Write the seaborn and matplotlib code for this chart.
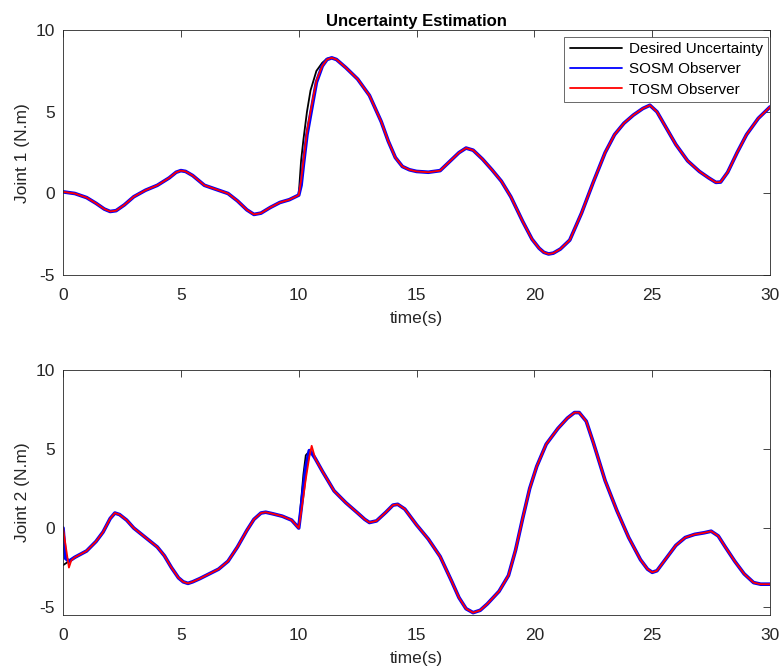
import matplotlib
matplotlib.use("Agg")
import matplotlib.pyplot as plt
import seaborn as sns
import pandas as pd

# ---------------- data ----------------
t1 = [0, 0.5, 1.0, 1.4, 1.75, 2.0, 2.25, 2.6, 3.0, 3.5,
      4.0, 4.5, 4.8, 5.0, 5.2, 5.5, 6.0, 6.5, 7.0, 7.4,
      7.8, 8.1, 8.4, 8.8, 9.2, 9.6, 10.0, 10.1, 10.2, 10.35,
      10.5, 10.75, 11.0, 11.2, 11.4, 11.6, 12.0, 12.5, 13.0, 13.5,
      13.8, 14.1, 14.4, 14.7, 15.0, 15.5, 16.0, 16.4, 16.8, 17.1,
      17.4, 17.8, 18.2, 18.6, 19.0, 19.5, 19.9, 20.2, 20.4, 20.6,
      20.8, 21.1, 21.5, 22.0, 22.5, 23.0, 23.4, 23.8, 24.2, 24.6,
      24.9, 25.2, 25.6, 26.0, 26.5, 27.0, 27.4, 27.7, 27.9, 28.2,
      28.6, 29.0, 29.5, 30.0]
joint1_desired = [0.1, 0.0, -0.25, -0.6, -0.95, -1.1, -1.05, -0.7, -0.2, 0.2,
                  0.5, 0.95, 1.3, 1.4, 1.35, 1.1, 0.5, 0.25, 0.0, -0.45,
                  -1.0, -1.28, -1.2, -0.85, -0.55, -0.38, -0.1, 2.0, 3.3, 5.0,
                  6.3, 7.5, 8.0, 8.25, 8.3, 8.2, 7.7, 7.0, 6.0, 4.4,
                  3.2, 2.2, 1.65, 1.45, 1.35, 1.3, 1.4, 1.95, 2.5, 2.78,
                  2.65, 2.1, 1.45, 0.75, -0.2, -1.7, -2.8, -3.35, -3.6, -3.7,
                  -3.65, -3.4, -2.85, -1.2, 0.7, 2.5, 3.6, 4.3, 4.8, 5.2,
                  5.4, 5.0, 4.0, 3.0, 2.0, 1.35, 0.95, 0.68, 0.7, 1.3,
                  2.5, 3.6, 4.6, 5.3]
joint1_sosm = [0.1, 0.0, -0.25, -0.6, -0.95, -1.1, -1.05, -0.7, -0.2, 0.2,
               0.5, 0.95, 1.3, 1.4, 1.35, 1.1, 0.5, 0.25, 0.0, -0.45,
               -1.0, -1.28, -1.2, -0.85, -0.55, -0.38, -0.1, 0.5, 1.8, 3.6,
               4.8, 6.8, 7.8, 8.2, 8.3, 8.2, 7.7, 7.0, 6.0, 4.4,
               3.2, 2.2, 1.65, 1.45, 1.35, 1.3, 1.4, 1.95, 2.5, 2.78,
               2.65, 2.1, 1.45, 0.75, -0.2, -1.7, -2.8, -3.35, -3.6, -3.7,
               -3.65, -3.4, -2.85, -1.2, 0.7, 2.5, 3.6, 4.3, 4.8, 5.2,
               5.4, 5.0, 4.0, 3.0, 2.0, 1.35, 0.95, 0.68, 0.7, 1.3,
               2.5, 3.6, 4.6, 5.3]
joint1_tosm = [0.1, 0.0, -0.25, -0.6, -0.95, -1.1, -1.05, -0.7, -0.2, 0.2,
               0.5, 0.95, 1.3, 1.4, 1.35, 1.1, 0.5, 0.25, 0.0, -0.45,
               -1.0, -1.28, -1.2, -0.85, -0.55, -0.38, -0.1, 0.8, 2.0, 3.8,
               5.0, 6.9, 7.8, 8.2, 8.3, 8.2, 7.7, 7.0, 6.0, 4.4,
               3.2, 2.2, 1.65, 1.45, 1.35, 1.3, 1.4, 1.95, 2.5, 2.78,
               2.65, 2.1, 1.45, 0.75, -0.2, -1.7, -2.8, -3.35, -3.6, -3.7,
               -3.65, -3.4, -2.85, -1.2, 0.7, 2.5, 3.6, 4.3, 4.8, 5.2,
               5.4, 5.0, 4.0, 3.0, 2.0, 1.35, 0.95, 0.68, 0.7, 1.3,
               2.5, 3.6, 4.6, 5.3]

t2 = [0, 0.1, 0.25, 0.35, 0.5, 1.0, 1.4, 1.7, 2.0, 2.2,
      2.4, 2.7, 3.0, 3.5, 4.0, 4.3, 4.6, 4.9, 5.1, 5.3,
      5.5, 5.8, 6.2, 6.6, 7.0, 7.4, 7.8, 8.1, 8.4, 8.6,
      8.9, 9.3, 9.7, 10.0, 10.1, 10.2, 10.3, 10.45, 10.55, 10.7,
      11.0, 11.5, 12.0, 12.5, 12.8, 13.0, 13.3, 13.7, 14.0, 14.2,
      14.5, 15.0, 15.5, 16.0, 16.5, 16.8, 17.1, 17.4, 17.7, 18.0,
      18.5, 18.9, 19.2, 19.5, 19.8, 20.1, 20.5, 21.0, 21.4, 21.7,
      21.9, 22.2, 22.5, 23.0, 23.5, 24.0, 24.5, 24.8, 25.0, 25.2,
      25.6, 26.0, 26.4, 26.8, 27.2, 27.5, 27.8, 28.1, 28.5, 28.9,
      29.3, 29.6, 30.0]
joint2_desired = [-2.35, -2.25, -2.1, -2.0, -1.85, -1.45, -0.85, -0.25, 0.6, 0.95,
                  0.85, 0.5, 0.0, -0.6, -1.2, -1.75, -2.5, -3.15, -3.4, -3.5,
                  -3.4, -3.2, -2.9, -2.6, -2.1, -1.2, -0.15, 0.55, 0.95, 1.0,
                  0.9, 0.75, 0.5, 0.0, 1.7, 3.4, 4.6, 4.85, 4.75, 4.4,
                  3.6, 2.35, 1.6, 0.95, 0.55, 0.35, 0.45, 1.0, 1.45, 1.5,
                  1.2, 0.2, -0.7, -1.8, -3.4, -4.4, -5.1, -5.35, -5.2, -4.8,
                  -4.0, -3.0, -1.4, 0.6, 2.5, 3.9, 5.3, 6.3, 6.95, 7.3,
                  7.3, 6.75, 5.4, 3.0, 1.1, -0.6, -2.0, -2.6, -2.8, -2.7,
                  -1.9, -1.1, -0.6, -0.4, -0.3, -0.2, -0.5, -1.2, -2.1, -2.9,
                  -3.45, -3.55, -3.55]
joint2_sosm = [0.0, -1.9, -2.1, -2.0, -1.85, -1.45, -0.85, -0.25, 0.6, 0.95,
               0.85, 0.5, 0.0, -0.6, -1.2, -1.75, -2.5, -3.15, -3.4, -3.5,
               -3.4, -3.2, -2.9, -2.6, -2.1, -1.2, -0.15, 0.55, 0.95, 1.0,
               0.9, 0.75, 0.5, 0.0, 1.2, 2.5, 3.8, 4.9, 4.75, 4.4,
               3.6, 2.35, 1.6, 0.95, 0.55, 0.35, 0.45, 1.0, 1.45, 1.5,
               1.2, 0.2, -0.7, -1.8, -3.4, -4.4, -5.1, -5.35, -5.2, -4.8,
               -4.0, -3.0, -1.4, 0.6, 2.5, 3.9, 5.3, 6.3, 6.95, 7.3,
               7.3, 6.75, 5.4, 3.0, 1.1, -0.6, -2.0, -2.6, -2.8, -2.7,
               -1.9, -1.1, -0.6, -0.4, -0.3, -0.2, -0.5, -1.2, -2.1, -2.9,
               -3.45, -3.55, -3.55]
joint2_tosm = [0.0, -1.0, -2.5, -2.05, -1.85, -1.45, -0.85, -0.25, 0.6, 0.95,
               0.85, 0.5, 0.0, -0.6, -1.2, -1.75, -2.5, -3.15, -3.4, -3.5,
               -3.4, -3.2, -2.9, -2.6, -2.1, -1.2, -0.15, 0.55, 0.95, 1.0,
               0.9, 0.75, 0.5, 0.0, 1.0, 2.0, 3.1, 4.5, 5.2, 4.4,
               3.6, 2.35, 1.6, 0.95, 0.55, 0.35, 0.45, 1.0, 1.45, 1.5,
               1.2, 0.2, -0.7, -1.8, -3.4, -4.4, -5.1, -5.35, -5.2, -4.8,
               -4.0, -3.0, -1.4, 0.6, 2.5, 3.9, 5.3, 6.3, 6.95, 7.3,
               7.3, 6.75, 5.4, 3.0, 1.1, -0.6, -2.0, -2.6, -2.8, -2.7,
               -1.9, -1.1, -0.6, -0.4, -0.3, -0.2, -0.5, -1.2, -2.1, -2.9,
               -3.45, -3.55, -3.55]

series_names = ["Desired Uncertainty", "SOSM Observer", "TOSM Observer"]
x_ticks = [0, 5, 10, 15, 20, 25, 30]
y_ticks = [-5, 0, 5, 10]

# ---------------- style ----------------
sns.set_theme(style="white")
plt.rcParams["font.family"] = ["Liberation Sans", "DejaVu Sans"]
gray = "#262626"
plt.rcParams.update({
    "axes.unicode_minus": False,
    "axes.edgecolor": gray, "axes.linewidth": 0.6,
    "xtick.color": gray, "ytick.color": gray,
    "xtick.labelcolor": gray, "ytick.labelcolor": gray,
    "axes.labelcolor": gray,
})

colors = ["black", "#0000ff", "#ff0000"]
widths = [1.3, 2.6, 1.3]

fig = plt.figure(figsize=(7.8, 6.68), dpi=100)
ax1 = fig.add_axes([0.0808, 0.588, 0.9065, 0.367])
ax2 = fig.add_axes([0.0808, 0.0793, 0.9065, 0.367])

def draw(ax, t, vals, legend):
    for name, v, c, w in zip(series_names, vals, colors, widths):
        df = pd.DataFrame({"t": t, "v": v})
        sns.lineplot(data=df, x="t", y="v", ax=ax, color=c, linewidth=w,
                     label=name if legend else None, estimator=None, sort=False)
    ax.set_xlim(0, 30)
    ax.set_xticks(x_ticks)
    ax.set_yticks(y_ticks)
    ax.tick_params(direction="in", length=5, width=0.6, top=True, right=True,
                   labelsize=12.5)
    ax.tick_params(axis="x", pad=9)
    ax.tick_params(axis="y", pad=6)
    ax.set_xlabel("time(s)", fontsize=12.5, labelpad=6)
    for s in ax.spines.values():
        s.set_visible(True)
        s.set_color(gray)

draw(ax1, t1, [joint1_desired, joint1_sosm, joint1_tosm], True)
draw(ax2, t2, [joint2_desired, joint2_sosm, joint2_tosm], False)
ax1.set_ylim(-5, 10)
ax2.set_ylim(-5.5, 10)
ax1.set_ylabel("Joint 1 (N.m)", fontsize=12.5, labelpad=4)
ax2.set_ylabel("Joint 2 (N.m)", fontsize=12.5, labelpad=4)
ax1.set_title("Uncertainty Estimation", fontsize=12, fontweight="bold",
              color="black", pad=3)

leg = ax1.legend(loc="upper right", bbox_to_anchor=(768 / 780, 1 - 37 / 668),
                 bbox_transform=fig.transFigure, borderaxespad=0,
                 fontsize=11, frameon=True, fancybox=False,
                 handlelength=3.4, borderpad=0.35, labelspacing=0.4,
                 handletextpad=0.45)
leg.get_frame().set_edgecolor(gray)
leg.get_frame().set_linewidth(0.6)
for h in leg.get_lines():
    h.set_linewidth(1.3)
for txt in leg.get_texts():
    txt.set_color("black")

fig.savefig("out.png", dpi=100)
